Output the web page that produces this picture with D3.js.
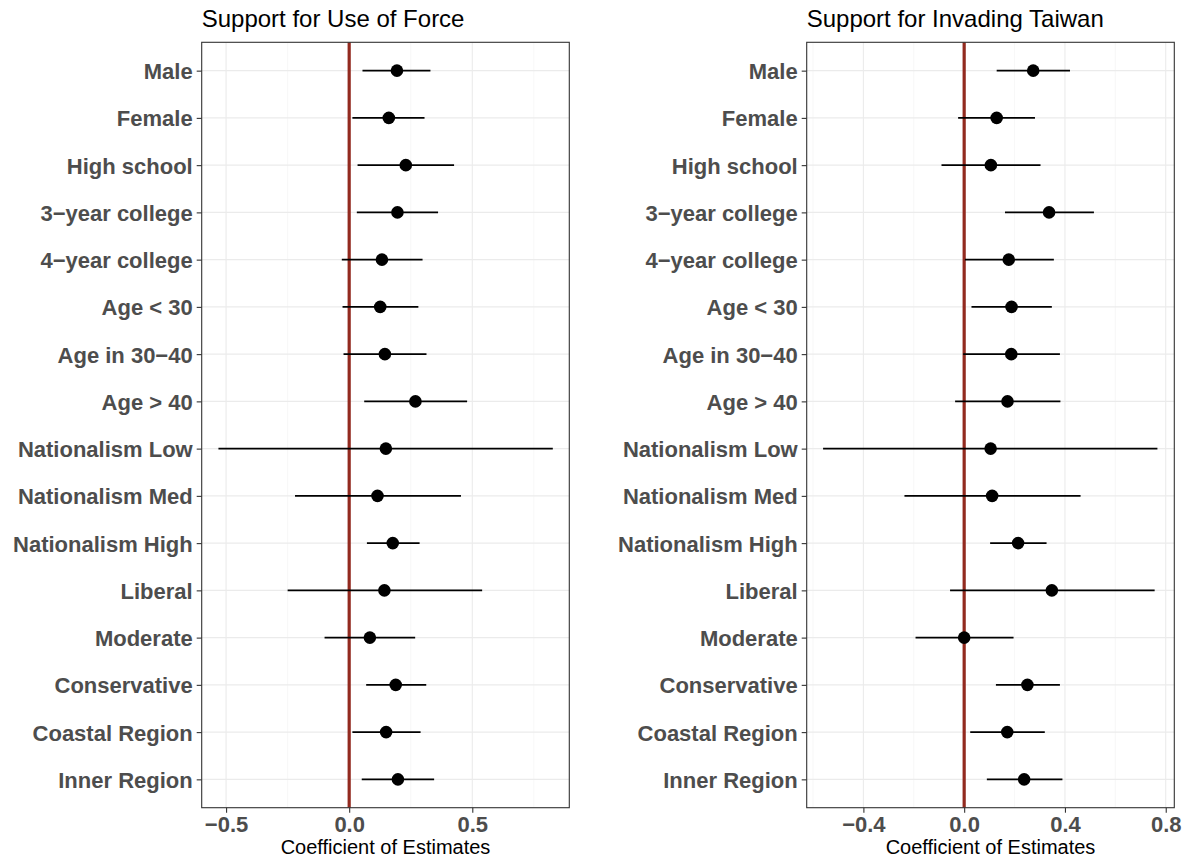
<!DOCTYPE html>
<html>
<head>
  <meta charset="utf-8" />
  <title>Coefficient plots</title>
  <script type="text/javascript" src="https://cdn.jsdelivr.net/npm/d3@7"></script>
  <style type="text/css">
  body {
    margin: 0;
    background: #fff;
    font-family: "Liberation Sans", Arial, Helvetica, sans-serif;
  }
  .grid-major { stroke: #ebebeb; stroke-width: 1.1px; }
  .grid-minor { stroke: #f2f2f2; stroke-width: 0.6px; }
  .frame { fill: none; stroke: #333; stroke-width: 1.1px; }
  .tick-lab { fill: #4d4d4d; font-weight: bold; }
  </style>
</head>
<body>
  <script type="text/javascript">
    var categories = ['Male', 'Female', 'High school', '3\u2212year college', '4\u2212year college',
      'Age < 30', 'Age in 30\u221240', 'Age > 40', 'Nationalism Low', 'Nationalism Med',
      'Nationalism High', 'Liberal', 'Moderate', 'Conservative', 'Coastal Region', 'Inner Region']

    // Support for Use of Force
    var forceEst = [0.194, 0.161, 0.230, 0.196, 0.133, 0.126, 0.145, 0.269, 0.149, 0.115, 0.177, 0.143, 0.084, 0.189, 0.150, 0.198]
    var forceLo  = [0.054, 0.013, 0.034, 0.031, -0.030, -0.027, -0.023, 0.061, -0.531, -0.220, 0.072, -0.250, -0.100, 0.069, 0.013, 0.051]
    var forceHi  = [0.330, 0.306, 0.426, 0.361, 0.298, 0.281, 0.314, 0.479, 0.827, 0.454, 0.286, 0.540, 0.268, 0.313, 0.290, 0.345]

    // Support for Invading Taiwan
    var taiwanEst = [0.274, 0.129, 0.106, 0.337, 0.177, 0.188, 0.187, 0.172, 0.105, 0.111, 0.214, 0.348, 0.000, 0.251, 0.171, 0.238]
    var taiwanLo  = [0.129, -0.024, -0.090, 0.162, 0.003, 0.029, -0.004, -0.036, -0.560, -0.237, 0.103, -0.056, -0.193, 0.126, 0.024, 0.090]
    var taiwanHi  = [0.420, 0.281, 0.303, 0.515, 0.356, 0.348, 0.380, 0.382, 0.767, 0.462, 0.327, 0.756, 0.196, 0.380, 0.320, 0.390]

    var forceTicks = [-0.5, 0, 0.5]
    var forceMinor = [-0.25, 0.25, 0.75]
    var taiwanTicks = [-0.4, 0, 0.4, 0.8]
    var taiwanMinor = [-0.6, -0.2, 0.2, 0.6]

    var W = 1188, H = 862

    var svg = d3.select(document.body)
      .append('svg')
      .attr('width', W)
      .attr('height', H)

    var panels = [
      { title: 'Support for Use of Force', est: forceEst, lo: forceLo, hi: forceHi,
        ticks: forceTicks, minor: forceMinor, domain: [-0.599, 0.894], left: 201.7, right: 569.3 },
      { title: 'Support for Invading Taiwan', est: taiwanEst, lo: taiwanLo, hi: taiwanHi,
        ticks: taiwanTicks, minor: taiwanMinor, domain: [-0.625, 0.834], left: 806.7, right: 1174.3 }
    ]

    var panelTop = 42.3, panelBottom = 807.7
    var fmt = d3.format('.1f')

    var y = d3.scalePoint()
      .domain(categories)
      .range([panelTop, panelBottom])
      .padding(0.6)

    panels.forEach(function(p) {
      var x = d3.scaleLinear().domain(p.domain).range([p.left, p.right])
      var g = svg.append('g')

      g.append('rect')
        .attr('x', p.left).attr('y', panelTop)
        .attr('width', p.right - p.left).attr('height', panelBottom - panelTop)
        .attr('fill', '#fff')

      g.selectAll('.vminor')
        .data(p.minor)
      .enter().append('line')
        .attr('class', 'grid-minor')
        .attr('x1', x).attr('x2', x)
        .attr('y1', panelTop).attr('y2', panelBottom)

      g.selectAll('.vmajor')
        .data(p.ticks)
      .enter().append('line')
        .attr('class', 'grid-major')
        .attr('x1', x).attr('x2', x)
        .attr('y1', panelTop).attr('y2', panelBottom)

      g.selectAll('.hmajor')
        .data(categories)
      .enter().append('line')
        .attr('class', 'grid-major')
        .attr('x1', p.left).attr('x2', p.right)
        .attr('y1', y).attr('y2', y)

      // reference line at zero
      g.append('line')
        .attr('x1', x(0)).attr('x2', x(0))
        .attr('y1', panelTop).attr('y2', panelBottom)
        .attr('stroke', '#922a1f')
        .attr('stroke-width', 3.2)

      g.selectAll('.bar')
        .data(categories)
      .enter().append('line')
        .attr('x1', function(d, i) { return x(p.lo[i]) })
        .attr('x2', function(d, i) { return x(p.hi[i]) })
        .attr('y1', y).attr('y2', y)
        .attr('stroke', '#000')
        .attr('stroke-width', 1.7)

      g.selectAll('.pt')
        .data(categories)
      .enter().append('circle')
        .attr('cx', function(d, i) { return x(p.est[i]) })
        .attr('cy', y)
        .attr('r', 6.3)
        .attr('fill', '#000')

      g.append('rect')
        .attr('class', 'frame')
        .attr('x', p.left).attr('y', panelTop)
        .attr('width', p.right - p.left).attr('height', panelBottom - panelTop)

      // x axis
      var xa = g.append('g')
        .attr('transform', 'translate(0,' + panelBottom + ')')
        .call(d3.axisBottom(x).tickValues(p.ticks).tickFormat(fmt).tickSize(5).tickPadding(4))
      xa.select('.domain').remove()
      xa.selectAll('.tick line').attr('stroke', '#333').attr('stroke-width', 1.1)
      xa.selectAll('.tick text')
        .attr('class', 'tick-lab')
        .attr('dy', '0.71em')
        .style('font-size', '22px')
        .style('font-family', '"Liberation Sans", Arial, sans-serif')

      // y axis
      var ya = g.append('g')
        .attr('transform', 'translate(' + p.left + ',0)')
        .call(d3.axisLeft(y).tickSize(5).tickPadding(4))
      ya.select('.domain').remove()
      ya.selectAll('.tick line').attr('stroke', '#333').attr('stroke-width', 1.1)
      ya.selectAll('.tick text')
        .attr('class', 'tick-lab')
        .attr('dy', '0.36em')
        .style('font-size', '22px')
        .style('font-family', '"Liberation Sans", Arial, sans-serif')

      g.append('text')
        .attr('x', p.left)
        .attr('y', 27)
        .attr('fill', '#000')
        .style('font-size', '24px')
        .text(p.title)

      g.append('text')
        .attr('x', (p.left + p.right) / 2)
        .attr('y', 854)
        .attr('text-anchor', 'middle')
        .attr('fill', '#000')
        .style('font-size', '20px')
        .text('Coefficient of Estimates')
    })
  </script>
</body>
</html>
